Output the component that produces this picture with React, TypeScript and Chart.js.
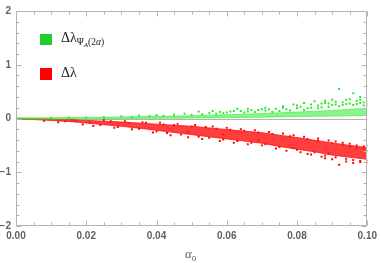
import React, { useEffect, useRef } from "react";
import { Chart, registerables } from "chart.js";

Chart.register(...registerables);

// Axis ticks
const X_TICKS = [0, 0.02, 0.04, 0.06, 0.08, 0.1];
const Y_TICKS = [-2, -1, 0, 1, 2];

// Dense core of each point cloud (upper / lower edge read at each alpha_0)
const BAND_X = [0, 0.005, 0.01, 0.015, 0.02, 0.025, 0.03, 0.035, 0.04, 0.045, 0.05, 0.055, 0.06, 0.065, 0.07, 0.075, 0.08, 0.085, 0.09, 0.095, 0.1];
const GREEN_UPPER = [0.012, 0.012, 0.015, 0.018, 0.02, 0.025, 0.03, 0.035, 0.04, 0.045, 0.05, 0.06, 0.07, 0.08, 0.095, 0.105, 0.12, 0.135, 0.15, 0.17, 0.19];
const GREEN_LOWER = [-0.012, -0.012, -0.012, -0.01, -0.01, -0.008, -0.005, 0, 0.003, 0.005, 0.008, 0.01, 0.015, 0.02, 0.025, 0.03, 0.035, 0.04, 0.045, 0.05, 0.055];
const RED_UPPER = [0, -0.005, -0.01, -0.02, -0.035, -0.05, -0.065, -0.085, -0.105, -0.125, -0.145, -0.175, -0.205, -0.235, -0.265, -0.31, -0.355, -0.405, -0.455, -0.5, -0.54];
const RED_LOWER = [-0.01, -0.02, -0.035, -0.055, -0.085, -0.115, -0.145, -0.18, -0.22, -0.26, -0.3, -0.34, -0.38, -0.42, -0.46, -0.52, -0.57, -0.62, -0.68, -0.72, -0.76];

// Scattered points around the clouds
const GREEN_SX = [0.01, 0.015, 0.02, 0.025, 0.03, 0.035, 0.04, 0.045, 0.048, 0.052, 0.055, 0.058, 0.06, 0.063, 0.064, 0.066, 0.069, 0.071, 0.073, 0.074, 0.076, 0.078, 0.079, 0.081, 0.083, 0.084, 0.085, 0.086, 0.088, 0.089, 0.09, 0.091, 0.092, 0.093, 0.094, 0.095, 0.096, 0.097, 0.098, 0.098, 0.099, 0.1, 0.1, 0.087, 0.08, 0.07, 0.062,
  0.033, 0.038, 0.042, 0.05, 0.053, 0.057, 0.059, 0.061, 0.065, 0.067, 0.068, 0.072, 0.075, 0.077, 0.08, 0.082, 0.084, 0.086, 0.087, 0.089, 0.09, 0.091, 0.092, 0.093, 0.094, 0.095, 0.096, 0.097, 0.098, 0.099, 0.1, 0.1, 0.088, 0.082, 0.076, 0.071, 0.066, 0.056];
const GREEN_SY = [0.015, 0.02, 0.02, 0.03, 0.04, 0.05, 0.06, 0.07, 0.09, 0.13, 0.1, 0.12, 0.11, 0.18, 0.14, 0.13, 0.16, 0.15, 0.12, 0.18, 0.2, 0.15, 0.26, 0.22, 0.19, 0.26, 0.32, 0.24, 0.29, 0.28, 0.35, 0.26, 0.55, 0.3, 0.35, 0.28, 0.47, 0.33, 0.29, 0.4, 0.3, 0.61, 0.27, 0.21, 0.19, 0.17, 0.14,
  0.03, 0.045, 0.05, 0.07, 0.08, 0.09, 0.1, 0.13, 0.11, 0.16, 0.12, 0.17, 0.14, 0.17, 0.24, 0.16, 0.2, 0.19, 0.28, 0.22, 0.25, 0.31, 0.23, 0.25, 0.27, 0.36, 0.25, 0.27, 0.35, 0.24, 0.33, 0.23, 0.33, 0.29, 0.23, 0.2, 0.18, 0.14];
const RED_SX = [0.008, 0.012, 0.016, 0.019, 0.022, 0.025, 0.028, 0.031, 0.033, 0.036, 0.039, 0.041, 0.044, 0.046, 0.049, 0.051, 0.053, 0.056, 0.058, 0.06, 0.062, 0.064, 0.066, 0.068, 0.07, 0.072, 0.074, 0.076, 0.077, 0.079, 0.081, 0.082, 0.084, 0.086, 0.087, 0.089, 0.09, 0.091, 0.092, 0.093, 0.094, 0.095, 0.096, 0.097, 0.098, 0.099, 0.1, 0.1, 0.088, 0.083,
  0.014, 0.017, 0.021, 0.024, 0.027, 0.029, 0.032, 0.035, 0.037, 0.04, 0.042, 0.043, 0.045, 0.047, 0.05, 0.052, 0.054, 0.055, 0.057, 0.059, 0.061, 0.063, 0.065, 0.067, 0.069, 0.071, 0.073, 0.075, 0.078, 0.08, 0.083, 0.085, 0.086, 0.088, 0.09, 0.091, 0.093, 0.094, 0.095, 0.096, 0.097, 0.098, 0.099, 0.1, 0.1, 0.089, 0.079, 0.069, 0.059, 0.049];
const RED_SY = [-0.04, -0.07, -0.02, -0.11, -0.14, -0.03, -0.17, -0.05, -0.2, -0.07, -0.26, -0.08, -0.31, -0.1, -0.35, -0.12, -0.38, -0.15, -0.42, -0.17, -0.45, -0.2, -0.48, -0.22, -0.5, -0.25, -0.56, -0.28, -0.6, -0.31, -0.63, -0.34, -0.67, -0.37, -0.71, -0.41, -0.76, -0.43, -0.86, -0.45, -0.8, -0.47, -0.83, -0.5, -0.79, -0.52, -0.82, -0.5, -0.74, -0.66,
  -0.05, -0.03, -0.08, -0.12, -0.05, -0.16, -0.09, -0.19, -0.08, -0.24, -0.11, -0.27, -0.12, -0.3, -0.15, -0.34, -0.16, -0.36, -0.19, -0.39, -0.21, -0.42, -0.23, -0.45, -0.26, -0.48, -0.29, -0.53, -0.33, -0.58, -0.38, -0.63, -0.41, -0.69, -0.46, -0.72, -0.49, -0.75, -0.52, -0.77, -0.55, -0.81, -0.56, -0.78, -0.6, -0.65, -0.55, -0.4, -0.3, -0.25];

const GREEN = "rgb(40,232,40)";
const GREEN_LEG = "#1ccf2c";
const RED = "rgb(255,0,0)";
const FRAME = "#b4b4b4";
const LABEL = "#606060";

const pts = (xs: number[], ys: number[]) => xs.map((x, i) => ({ x, y: ys[i] }));

export default function App() {
  const ref = useRef<HTMLCanvasElement>(null);

  useEffect(() => {
    if (!ref.current) return;
    const framePlugin = {
      id: "frame",
      beforeDatasetsDraw(chart: any) {
        const { ctx, chartArea: a, scales } = chart;
        const y0 = Math.round(scales.y.getPixelForValue(0)) + 0.5;
        ctx.save();
        ctx.strokeStyle = FRAME;
        ctx.lineWidth = 1;
        ctx.beginPath();
        ctx.moveTo(a.left, y0);
        ctx.lineTo(a.right, y0);
        ctx.stroke();
        ctx.restore();
      },
      afterDatasetsDraw(chart: any) {
        const { ctx, chartArea: a, scales } = chart;
        const L = Math.round(a.left) + 0.5;
        const R = Math.round(a.right) - 0.5;
        const T = Math.round(a.top) + 0.5;
        const B = Math.round(a.bottom) - 0.5;
        ctx.save();
        ctx.strokeStyle = FRAME;
        ctx.lineWidth = 1;
        ctx.beginPath();
        ctx.rect(L, T, R - L, B - T);
        for (let i = 0; i <= 20; i++) {
          const v = i * 0.005;
          const px = Math.round(scales.x.getPixelForValue(v)) + 0.5;
          const len = i % 4 === 0 ? 5 : 3;
          ctx.moveTo(px, B);
          ctx.lineTo(px, B - len);
          ctx.moveTo(px, T);
          ctx.lineTo(px, T + len);
        }
        for (let i = 0; i <= 20; i++) {
          const v = -2 + i * 0.2;
          const py = Math.round(scales.y.getPixelForValue(v)) + 0.5;
          const len = i % 5 === 0 ? 5 : 3;
          ctx.moveTo(L, py);
          ctx.lineTo(L + len, py);
          ctx.moveTo(R, py);
          ctx.lineTo(R - len, py);
        }
        ctx.stroke();
        ctx.restore();
      },
    };

    const bandLine = (ys: number[], color: string, fill: any) => ({
      type: "line" as const,
      data: pts(BAND_X, ys),
      showLine: true,
      borderColor: color,
      borderWidth: 1,
      backgroundColor: color,
      pointRadius: 0,
      fill,
      tension: 0,
    });

    const scatter = (xs: number[], ys: number[], color: string) =>
      ({
        data: pts(xs, ys),
        backgroundColor: color,
        pointStyle: "rect",
        pointRadius: 1.4,
        pointBorderWidth: 0,
      } as any);

    const chart = new Chart(ref.current, {
      type: "scatter",
      data: {
        datasets: [
          bandLine(GREEN_UPPER, "rgba(60,235,60,0.6)", false),
          bandLine(GREEN_LOWER, "rgba(60,235,60,0.6)", 0),
          scatter(GREEN_SX, GREEN_SY, GREEN),
          bandLine(RED_UPPER, "rgba(255,20,20,0.82)", false),
          bandLine(RED_LOWER, "rgba(255,20,20,0.82)", 3),
          scatter(RED_SX, RED_SY, RED),
        ],
      },
      options: {
        responsive: false,
        animation: false,
        devicePixelRatio: 1,
        layout: { padding: { left: 0, right: 11, top: 6, bottom: 0 } },
        plugins: { legend: { display: false }, tooltip: { enabled: false } },
        scales: {
          x: {
            type: "linear",
            min: 0,
            max: 0.1,
            grid: { display: false, drawTicks: false },
            border: { display: false },
            afterBuildTicks: (s: any) => {
              s.ticks = X_TICKS.map((v) => ({ value: v }));
            },
            afterFit: (s: any) => {
              s.height = 37;
            },
            ticks: {
              padding: 4,
              maxRotation: 0,
              autoSkip: false,
              color: LABEL,
              font: { family: "Liberation Sans", size: 10, weight: "bold" },
              callback: (v: any) => Number(v).toFixed(2),
            },
          },
          y: {
            type: "linear",
            min: -2,
            max: 2,
            grid: { display: false, drawTicks: false },
            border: { display: false },
            afterBuildTicks: (s: any) => {
              s.ticks = Y_TICKS.map((v) => ({ value: v }));
            },
            afterFit: (s: any) => {
              s.width = 16;
            },
            ticks: {
              padding: 5,
              autoSkip: false,
              color: LABEL,
              font: { family: "Liberation Sans", size: 10, weight: "bold" },
              callback: (v: any) => (Number(v) < 0 ? "\u2212" + Math.abs(Number(v)) : String(v)),
            },
          },
        },
      },
      plugins: [framePlugin],
    } as any);
    return () => chart.destroy();
  }, []);

  return (
    <div style={{ position: "fixed", left: 0, top: 0, width: 381, height: 263, background: "#fff" }}>
      <canvas ref={ref} width={381} height={263} style={{ position: "absolute", left: 0, top: 0 }} />
      <div style={{ position: "absolute", left: 40, top: 34, width: 12, height: 11, background: GREEN_LEG }} />
      <div
        style={{
          position: "absolute",
          left: 61,
          top: 31,
          fontFamily: "'Liberation Serif', serif",
          fontSize: 14,
          lineHeight: "14px",
          color: "#1a1a1a",
          whiteSpace: "nowrap",
        }}
      >
        Δλ
        <span style={{ fontSize: 9.5, position: "relative", top: 3 }}>
          Ψ<span style={{ fontSize: 7, fontStyle: "italic", position: "relative", top: 1.5 }}>A</span>(2<i>α</i>)
        </span>
      </div>
      <div style={{ position: "absolute", left: 40, top: 68, width: 12, height: 12, background: RED }} />
      <div
        style={{
          position: "absolute",
          left: 61,
          top: 66,
          fontFamily: "'Liberation Serif', serif",
          fontSize: 14,
          lineHeight: "14px",
          color: "#1a1a1a",
          whiteSpace: "nowrap",
        }}
      >
        Δλ
      </div>
      <div
        style={{
          position: "absolute",
          left: 185,
          top: 247,
          color: LABEL,
          whiteSpace: "nowrap",
          lineHeight: "12px",
        }}
      >
        <span style={{ fontFamily: "'Liberation Serif', serif", fontStyle: "italic", fontSize: 13 }}>α</span>
        <span style={{ fontFamily: "'Liberation Sans', sans-serif", fontSize: 8, position: "relative", top: 3 }}>0</span>
      </div>
    </div>
  );
}
